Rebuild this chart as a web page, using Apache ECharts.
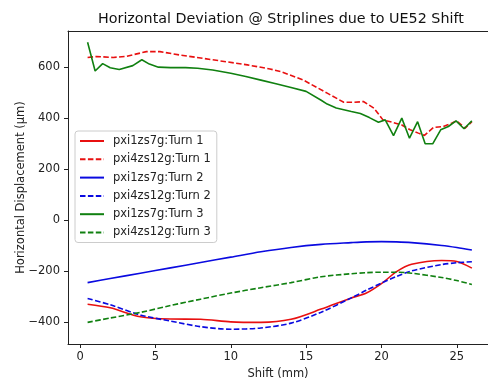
<!DOCTYPE html>
<html>
<head>
<meta charset="utf-8">
<script src="https://cdn.jsdelivr.net/npm/echarts@6/dist/echarts.min.js"></script>
<style>
  html, body { margin: 0; padding: 0; background: #fff; }
  #chart { width: 488px; height: 380px; }
</style>
</head>
<body>
<div id="chart"></div>
<script>
// shift positions (mm) used by the smooth curves
var shiftSmooth = [0.5, 2, 4, 6, 8, 10, 12, 14, 16, 18, 19, 20, 21, 22, 24, 25, 26];

// smooth curves (um)
var zs7gTurn1 = [-331, -345, -380, -389, -390, -400, -402, -390, -350, -306, -287, -250, -203, -174, -159, -163, -189];
var zs7gTurn2 = [-246, -230, -209, -188, -167, -146, -125, -108, -96, -89, -86, -85, -86, -89, -100, -108, -118];
var zs12gTurn2 = [-308, -333, -373, -397, -419, -429, -424, -405, -362, -306, -276, -248, -222, -200, -175, -168, -164];
var zs12gTurn3 = [-402, -385, -363, -336, -311, -287, -266, -246, -223, -211, -207, -205, -205, -209, -226, -238, -253];

// noisy curves, own shift positions
var zs12gTurn1X = [0.5, 1.1, 2.2, 3.1, 4.4, 5.3, 6.6, 8.8, 11.1, 12.6, 13.3, 14.8, 16.4, 17.5, 18.2, 18.8, 19.5, 20.1, 20.7, 21.35, 21.9, 22.45, 22.85, 23.45, 24.1, 24.65, 25.0, 25.55, 26.0];
var zs12gTurn1 = [638, 642, 638, 643, 661, 661, 648, 629, 609, 593, 583, 550, 498, 462, 462, 465, 439, 393, 384, 373, 354, 341, 332, 363, 367, 380, 389, 360, 386];
var zs7gTurn3X = [0.5, 1, 1.5, 2, 2.6, 3.5, 4.1, 4.6, 5.2, 6, 7, 7.8, 8.8, 10, 11, 12, 13, 14, 15, 16, 16.4, 17, 18, 18.6, 19.2, 19.8, 20.25, 20.8, 21.35, 21.86, 22.4, 22.9, 23.4, 23.93, 24.44, 24.95, 25.48, 26.0];
var zs7gTurn3 = [698, 585, 614, 598, 591, 606, 629, 612, 600, 598, 598, 596, 589, 576, 563, 549, 535, 520, 505, 470, 455, 440, 426, 418, 402, 384, 393, 331, 400, 321, 386, 299, 299, 354, 367, 389, 358, 389];

var xTicks = [0, 5, 10, 15, 20, 25];
var yTicks = [-400, -200, 0, 200, 400, 600];

function pairs(xs, ys) {
    return xs.map(function (x, i) { return [x, ys[i]]; });
}

var FONT = 'DejaVu Sans';
var RED = '#e81010', BLUE = '#0a0ae0', GREEN = '#108010';
var DASH = [5.5, 2.4];
var AXIS = '#222';

function line(name, data, color, dashed, smooth) {
    return {
        name: name,
        type: 'line',
        data: data,
        symbol: 'none',
        smooth: smooth ? 0.3 : false,
        lineStyle: { color: color, width: 1.6, type: dashed ? DASH : 'solid' },
        itemStyle: { color: color },
        animation: false
    };
}

var chart = echarts.init(document.getElementById('chart'));
chart.setOption({
    animation: false,
    title: {
        text: 'Horizontal Deviation @ Striplines due to UE52 Shift',
        left: 93,
        top: 7,
        textStyle: { fontFamily: FONT, fontSize: 14.3, fontWeight: 'normal', color: '#111' }
    },
    grid: { left: 68, top: 31, right: 0, bottom: 36, outerBoundsMode: 'none', containLabel: false },
    legend: {
        orient: 'vertical',
        left: 75,
        top: 131,
        itemWidth: 24,
        itemHeight: 12,
        itemGap: 6.3,
        padding: [4, 6, 4, 4],
        backgroundColor: 'rgba(255,255,255,0.8)',
        borderColor: '#cccccc',
        borderWidth: 1,
        borderRadius: 3,
        itemStyle: { color: 'rgba(0,0,0,0)', borderColor: 'rgba(0,0,0,0)', borderWidth: 0, opacity: 0 },
        textStyle: { fontFamily: FONT, fontSize: 11.5, color: '#222', padding: [0, 0, 0, 4] },
        data: ['pxi1zs7g:Turn 1', 'pxi4zs12g:Turn 1', 'pxi1zs7g:Turn 2',
               'pxi4zs12g:Turn 2', 'pxi1zs7g:Turn 3', 'pxi4zs12g:Turn 3']
    },
    xAxis: [{
        type: 'value',
        min: -0.8,
        max: 27.07,
        name: 'Shift (mm)',
        nameLocation: 'middle',
        nameGap: 24,
        nameMoveOverlap: false,
        nameTextStyle: { fontFamily: FONT, fontSize: 11.5, color: '#222' },
        axisLine: { show: true, onZero: false, lineStyle: { color: AXIS, width: 1 } },
        axisTick: { show: true, length: 4, lineStyle: { color: AXIS }, customValues: xTicks },
        axisLabel: { fontFamily: FONT, fontSize: 11.5, color: '#222', margin: 7, customValues: xTicks },
        splitLine: { show: false }
    }, {
        // top frame line only
        type: 'value',
        position: 'top',
        min: -0.8,
        max: 27.07,
        axisLine: { show: true, onZero: false, lineStyle: { color: AXIS, width: 1 } },
        axisTick: { show: false },
        axisLabel: { show: false },
        splitLine: { show: false }
    }],
    yAxis: {
        type: 'value',
        min: -487,
        max: 742,
        name: 'Horizontal Displacement (μm)',
        nameLocation: 'middle',
        nameGap: 41,
        nameMoveOverlap: false,
        nameTextStyle: { fontFamily: FONT, fontSize: 11.5, color: '#222' },
        axisLine: { show: true, onZero: false, lineStyle: { color: AXIS, width: 1 } },
        axisTick: { show: true, length: 4, lineStyle: { color: AXIS }, customValues: yTicks },
        axisLabel: {
            fontFamily: FONT, fontSize: 11.5, color: '#222', margin: 8, customValues: yTicks,
            formatter: function (v) { return String(v).replace('-', '\u2212'); }
        },
        splitLine: { show: false }
    },
    series: [
        line('pxi1zs7g:Turn 1', pairs(shiftSmooth, zs7gTurn1), RED, false, true),
        line('pxi4zs12g:Turn 1', pairs(zs12gTurn1X, zs12gTurn1), RED, true, false),
        line('pxi1zs7g:Turn 2', pairs(shiftSmooth, zs7gTurn2), BLUE, false, true),
        line('pxi4zs12g:Turn 2', pairs(shiftSmooth, zs12gTurn2), BLUE, true, true),
        line('pxi1zs7g:Turn 3', pairs(zs7gTurn3X, zs7gTurn3), GREEN, false, false),
        line('pxi4zs12g:Turn 3', pairs(shiftSmooth, zs12gTurn3), GREEN, true, true)
    ]
});
</script>
</body>
</html>
